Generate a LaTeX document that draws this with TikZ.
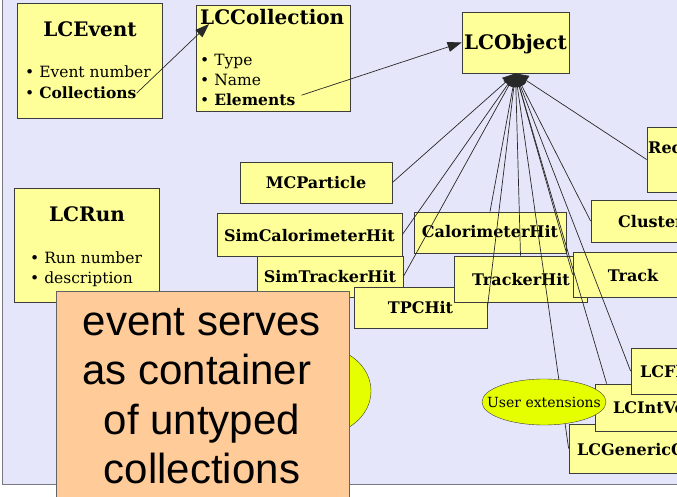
\documentclass[tikz,border=0pt]{standalone}
\usepackage{fontspec}
\setmainfont{DejaVu Serif}
\newfontfamily\notefont{Liberation Sans}
\usetikzlibrary{arrows.meta,calc,shapes.geometric}

\definecolor{panelbg}{RGB}{230,230,250}
\definecolor{panelline}{RGB}{120,120,130}
\definecolor{boxfill}{RGB}{255,255,153}
\definecolor{boxline}{RGB}{60,60,60}
\definecolor{extfill}{RGB}{230,255,0}
\definecolor{notefill}{RGB}{255,204,153}
\definecolor{wirecol}{RGB}{40,40,40}

\tikzset{
  ybox/.style={draw=boxline, fill=boxfill, line width=0.8pt, inner sep=0pt},
  title/.style={inner sep=0pt, font=\fontsize{20}{24}\selectfont\bfseries},
  item/.style={inner sep=0pt, font=\fontsize{15.5}{19}\selectfont},
  lbl/.style={inner sep=0pt, font=\fontsize{16}{19}\selectfont\bfseries},
  wire/.style={draw=wirecol, line width=0.7pt, -{Triangle[length=13pt,width=11pt]}},
  link/.style={draw=wirecol, line width=0.7pt, -{Triangle[length=14pt,width=10pt]}},
  note/.style={inner sep=0pt, font=\fontsize{42}{50}\selectfont\notefont},
}

\begin{document}
\begin{tikzpicture}[x=1pt,y=-1pt]
\useasboundingbox (0,0) rectangle (677,497);
\clip (0,0) rectangle (677,497);
\fill[white] (0,0) rectangle (677,497);
\fill[panelbg] (2,-5) rectangle (690,484);
\draw[panelline, line width=1pt] (2,-5) -- (2,484) -- (690,484);

% top-level classes
\node[ybox, minimum width=145pt, minimum height=115pt] (ev) at (89.5,60.5) {};
\node[title, anchor=base] (evt) at (90,37) {LCEvent};
\node[item, anchor=base west] (evnum) at (25,78) {\textbullet\ Event number};
\node[item, anchor=base west] (evcoll) at (25,99) {\textbullet\ \textbf{Collections}};

\node[ybox, minimum width=154pt, minimum height=106pt] (coll) at (273,58) {};
\node[title, anchor=base west] (collt) at (200,25) {LCCollection};
\node[item, anchor=base west] (ctype) at (200,66) {\textbullet\ Type};
\node[item, anchor=base west] (cname) at (200,86) {\textbullet\ Name};
\node[item, anchor=base west] (celem) at (200,106) {\textbullet\ \textbf{Elements}};

\node[ybox, minimum width=107pt, minimum height=61pt] (lcobj) at (515.5,42.5) {};
\node[title, anchor=base] (lcobjt) at (515.5,50) {LCObject};

\node[ybox, minimum width=145pt, minimum height=114pt] (run) at (86.5,245) {};
\node[title, anchor=base] (runt) at (87,222) {LCRun};
\node[item, anchor=base west] (runnum) at (30,263) {\textbullet\ Run number};
\node[item, anchor=base west] (rundesc) at (30,283) {\textbullet\ description};

% data classes
\node[ybox, minimum width=152pt, minimum height=41pt] (mcp) at (316,182.5) {};
\node[lbl, anchor=base] at (316,189) {MCParticle};
\node[ybox, minimum width=185pt, minimum height=43pt] (simcal) at (309.5,234.5) {};
\node[lbl, anchor=base] at (309.5,241) {SimCalorimeterHit};
\node[ybox, minimum width=146pt, minimum height=41pt] (simtrk) at (330,276.5) {};
\node[lbl, anchor=base] at (330,282) {SimTrackerHit};
\node[ybox, minimum width=133pt, minimum height=41pt] (tpc) at (420.5,307.5) {};
\node[lbl, anchor=base] at (420.5,313) {TPCHit};
\node[ybox, minimum width=152pt, minimum height=41pt] (calo) at (490,232.5) {};
\node[lbl, anchor=base] at (490,237) {CalorimeterHit};
\node[ybox, minimum width=133pt, minimum height=46pt] (trkhit) at (520.5,279) {};
\node[lbl, anchor=base] at (521,285) {TrackerHit};
\node[ybox, minimum width=120pt, minimum height=45pt] (track) at (633,274.5) {};
\node[lbl, anchor=base] at (633,281) {Track};
\node[ybox, minimum width=124pt, minimum height=42pt] (clus) at (653,221) {};
\node[lbl, anchor=base west] at (618,227) {Cluster};
\node[ybox, minimum width=153pt, minimum height=65pt] (reco) at (723.5,159.5) {};
\node[lbl, anchor=base west] at (648,154) {ReconstructedParticle};

% generic user data
\node[ybox, minimum width=171pt, minimum height=49pt] (gen) at (654.5,448.5) {};
\node[lbl, anchor=base west] at (577,455) {LCGenericObject};
\node[ybox, minimum width=125pt, minimum height=47pt] (intv) at (657.5,407.5) {};
\node[lbl, anchor=base west] at (613,413) {LCIntVec};
\node[ybox, minimum width=129pt, minimum height=46pt] (fltv) at (695.5,371) {};
\node[lbl, anchor=base west] at (640,377) {LCFloatVec};

% inheritance from LCObject
\draw[wire] (mcp.east) -- (lcobj.south);
\draw[wire] (simcal.east) -- (lcobj.south);
\draw[wire] (simtrk.east) -- (lcobj.south);
\draw[wire] (calo.north) -- (lcobj.south);
\draw[wire] (tpc.east) -- (lcobj.south);
\draw[wire] (trkhit.north) -- (lcobj.south);
\draw[wire] (gen.west) -- (lcobj.south);
\draw[wire] ($(intv.north west)+(12,0)$) -- (lcobj.south);
\draw[wire] (track.west) -- (lcobj.south);
\draw[wire] (fltv.west) -- (lcobj.south);
\draw[wire] (clus.west) -- (lcobj.south);
\draw[wire] (reco.west) -- (lcobj.south);

% containment
\coordinate (colltip) at (209,24);
\draw[link] (evcoll.east) -- (colltip);
\draw[link] ($(celem.east)+(6,-5)$) -- (lcobj.west);

% user extensions
\node[draw=boxline, fill=extfill, ellipse, minimum width=124pt, minimum height=46pt, inner sep=0pt] (ext) at (544,402) {};
\node[inner sep=0pt, anchor=base, font=\fontsize{14}{17}\selectfont] at (544,407) {User extensions};
\node[draw=boxline, fill=extfill, ellipse, minimum width=102pt, minimum height=88pt, inner sep=0pt] (ext2) at (320,391) {};

% note
\node[draw=boxline!80, fill=notefill, line width=0.8pt, minimum width=293pt, minimum height=229pt, inner sep=0pt] (notebox) at (202.5,405.5) {};
\node[note, anchor=base] (n1) at (202,335) {event serves};
\node[note, anchor=base] (n2) at (197,384) {as container};
\node[note, anchor=base] (n3) at (202,434) {of untyped};
\node[note, anchor=base] (n4) at (202,483) {collections};
\end{tikzpicture}
\end{document}
